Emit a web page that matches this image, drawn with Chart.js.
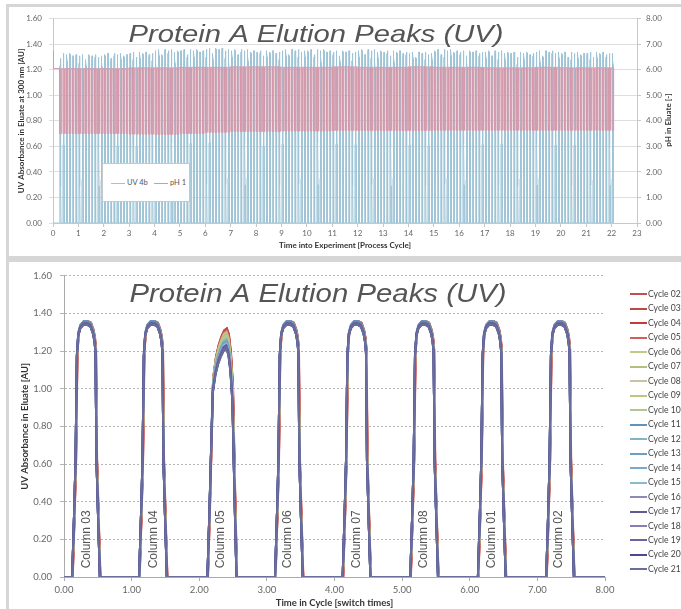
<!DOCTYPE html>
<html>
<head>
<meta charset="utf-8">
<script src="https://cdn.jsdelivr.net/npm/chart.js@4.4.1/dist/chart.umd.min.js"></script>
<style>
  html, body { margin: 0; padding: 0; background: #fff; }
  body { width: 681px; height: 609px; position: relative; overflow: hidden; font-family: Lato, "Open Sans", sans-serif; }
  #topPanel { position: absolute; left: 6px; top: 4px; width: 680px; height: 255px; border: 3px solid #d6d6d6; border-right: none; box-sizing: border-box; }
  #bottomPanel { position: absolute; left: 6px; top: 259px; width: 680px; height: 360px; border-top: 3px solid #d6d6d6; border-left: 3px solid #d6d6d6; box-sizing: border-box; }
  #topChart { position: absolute; left: 9px; top: 7px; }
  #bottomChart { position: absolute; left: 9px; top: 262px; }
  #topLegend { position: absolute; left: 102px; top: 163px; width: 88px; height: 39px; background: #fff; border: 1px solid #c8c8c8; box-sizing: border-box; font-size: 7.5px; color: #555; }
  #topLegend .item { position: absolute; top: 15px; white-space: nowrap; line-height: 8px; color: #555; }
  #topLegend .swatch { display: inline-block; width: 14px; height: 1px; vertical-align: middle; margin-right: 2px; }
  #bottomLegend { position: absolute; left: 630px; top: 286px; font-size: 10px; color: #444; }
  #bottomLegend .row { height: 14.47px; line-height: 14.47px; white-space: nowrap; }
  #bottomLegend .swatch { display: inline-block; width: 17px; height: 2px; vertical-align: middle; margin-right: 1px; }
  #bottomLegend .txt { display: inline-block; transform: scaleX(0.86); transform-origin: left center; }
</style>
</head>
<body>
<div id="topPanel"></div>
<div id="bottomPanel"></div>
<canvas id="topChart" width="672" height="249"></canvas>
<canvas id="bottomChart" width="672" height="347"></canvas>
<div id="topLegend"></div>
<div id="bottomLegend"></div>
<script>
// ---------- peak shapes (offset in switch times, AU) ----------
const peakShapeT  = [0, 0.03, 0.05, 0.07, 0.09, 0.12, 0.17, 0.22, 0.27, 0.31, 0.33, 0.345, 0.36, 0.385, 0.41];
const peakShapeAU = [0, 0.35, 0.62, 1.18, 1.29, 1.33, 1.35, 1.35, 1.34, 1.30, 1.26, 1.20, 0.62, 0.30, 0];
const col05ShapeT  = [0, 0.03, 0.06, 0.08, 0.12, 0.16, 0.20, 0.24, 0.28, 0.31, 0.34, 0.37, 0.40, 0.43];
const col05ShapeAU = [0, 0.35, 0.75, 1.00, 1.10, 1.16, 1.20, 1.23, 1.24, 1.21, 1.12, 0.95, 0.45, 0];

// ---------- top chart: whole experiment ----------
const topXTicks = [0, 1, 2, 3, 4, 5, 6, 7, 8, 9, 10, 11, 12, 13, 14, 15, 16, 17, 18, 19, 20, 21, 22, 23];
const topYTicks = [0, 0.2, 0.4, 0.6, 0.8, 1.0, 1.2, 1.4, 1.6];
const topY2Ticks = [0, 1, 2, 3, 4, 5, 6, 7, 8];
// peak top per process cycle (AU) and per column position in the cycle
const uvTopByCycle = [1.32, 1.31, 1.32, 1.33, 1.35, 1.35, 1.36, 1.35, 1.34, 1.35, 1.35, 1.34,
                      1.35, 1.34, 1.33, 1.35, 1.34, 1.34, 1.33, 1.34, 1.33, 1.33, 1.33];
const uvColumnDelta = [0.00, 0.01, -0.03, 0.01, 0.00, 0.01, -0.01, 0.00];
// pH plateau (load) and elution minimum per process cycle
const phHighByCycle = [6.05, 6.05, 6.05, 6.08, 6.08, 6.10, 6.10, 6.12, 6.12, 6.10, 6.10, 6.12,
                       6.10, 6.10, 6.12, 6.10, 6.10, 6.08, 6.08, 6.10, 6.08, 6.08, 6.08];
const phLowByCycle  = [3.50, 3.50, 3.50, 3.48, 3.47, 3.50, 3.55, 3.58, 3.58, 3.60, 3.60, 3.62,
                       3.62, 3.62, 3.62, 3.63, 3.63, 3.63, 3.63, 3.63, 3.63, 3.63, 3.63];
const phStart = 6.75;
const firstSwitch = 2, lastSwitch = 176;   // switches (1/8 cycle) with a peak
const uvColor = '#9fc4d6', phColor = '#d598aa';

// ---------- bottom chart: overlay of cycles ----------
const bottomXTicks = [0, 1, 2, 3, 4, 5, 6, 7, 8];
const bottomYTicks = [0, 0.2, 0.4, 0.6, 0.8, 1.0, 1.2, 1.4, 1.6];
const cycleNames = ['Cycle 02', 'Cycle 03', 'Cycle 04', 'Cycle 05', 'Cycle 06', 'Cycle 07', 'Cycle 08',
                    'Cycle 09', 'Cycle 10', 'Cycle 11', 'Cycle 12', 'Cycle 13', 'Cycle 14', 'Cycle 15',
                    'Cycle 16', 'Cycle 17', 'Cycle 18', 'Cycle 19', 'Cycle 20', 'Cycle 21'];
const cycleColors = ['#c0504d', '#b84a48', '#c43c3c', '#d0605c', '#c3c98c', '#b5be7c', '#c9c4a0',
                     '#bfc583', '#b0c495', '#5f93bb', '#82b3cb', '#6c9fc0', '#7aa9cb', '#8cb9d2',
                     '#9088b5', '#5f5c92', '#8a7fb2', '#6e63a0', '#4d478c', '#6a6e9c'];
const cyclePeakAU = [1.36, 1.35, 1.36, 1.35, 1.35, 1.36, 1.34, 1.35, 1.35, 1.36,
                     1.35, 1.34, 1.35, 1.35, 1.34, 1.35, 1.34, 1.35, 1.34, 1.34];
const col05PeakAU = [1.32, 1.32, 1.31, 1.31, 1.30, 1.29, 1.28, 1.28, 1.27, 1.26,
                     1.26, 1.25, 1.24, 1.24, 1.23, 1.23, 1.22, 1.22, 1.21, 1.21];
const cycleShift  = [0.010, 0.008, 0.008, 0.006, 0.004, 0.004, 0.003, 0.003, 0.002, 0.002,
                     0, 0, 0, 0, 0, 0, 0, 0, 0, 0];
const columnNames = ['Column 03', 'Column 04', 'Column 05', 'Column 06', 'Column 07', 'Column 08', 'Column 01', 'Column 02'];
const columnPeakStart = [0.12, 1.11, 2.12, 3.12, 4.12, 5.12, 6.12, 7.13];
const columnLabelX = [0.33, 1.32, 2.32, 3.31, 4.33, 5.32, 6.32, 7.32];
const columnLabelY = 0.20;

const tickFont = { family: 'Lato', size: 8 };
const fix2 = v => Number(v).toFixed(2);

// build the process traces for the top chart
function uvTrace() {
  const pts = [{ x: 0, y: 0 }];
  for (let k = firstSwitch; k <= lastSwitch; k++) {
    const c = Math.floor(k / 8), col = k % 8;
    const h = uvTopByCycle[c] + uvColumnDelta[col];
    peakShapeT.forEach((dt, j) => {
      pts.push({ x: (k + 0.12 + dt) / 8, y: peakShapeAU[j] * h / 1.35 });
    });
  }
  return pts;
}
function phTrace() {
  const pts = [{ x: 0, y: phStart }, { x: 0.015, y: phHighByCycle[0] }];
  for (let k = firstSwitch; k <= lastSwitch; k++) {
    const c = Math.floor(k / 8);
    pts.push({ x: (k + 0.10) / 8, y: phHighByCycle[c] });
    pts.push({ x: (k + 0.16) / 8, y: phLowByCycle[c] });
    pts.push({ x: (k + 0.56) / 8, y: phLowByCycle[c] });
    pts.push({ x: (k + 0.64) / 8, y: phHighByCycle[c] });
  }
  return pts;
}

// one trace per cycle for the bottom chart
function cycleTrace(i) {
  const pts = [{ x: 0, y: 0 }];
  columnPeakStart.forEach((start, c) => {
    const isCol05 = c === 2;
    const T = isCol05 ? col05ShapeT : peakShapeT;
    const Y = isCol05 ? col05ShapeAU : peakShapeAU;
    const k = isCol05 ? col05PeakAU[i] / 1.24 : cyclePeakAU[i] / 1.35;
    T.forEach((dt, j) => pts.push({ x: start + cycleShift[i] + dt, y: Y[j] * k }));
  });
  pts.push({ x: 8, y: 0 });
  return pts;
}

// big italic title drawn inside the plot, like the original
const overlayText = {
  id: 'overlayText',
  afterDatasetsDraw(chart, args, opts) {
    const ctx = chart.ctx;
    (opts.items || []).forEach(it => {
      ctx.save();
      ctx.font = it.font;
      ctx.fillStyle = it.color;
      ctx.textAlign = 'center';
      ctx.textBaseline = it.baseline || 'alphabetic';
      ctx.translate(it.x, it.y);
      if (it.rotate) ctx.rotate(it.rotate);
      if (it.width) ctx.scale(it.width / ctx.measureText(it.text).width, 1);
      ctx.fillText(it.text, 0, 0);
      ctx.restore();
    });
  }
};

const columnLabels = {
  id: 'columnLabels',
  afterDatasetsDraw(chart) {
    const { ctx, scales } = chart;
    ctx.save();
    ctx.font = '12px "Liberation Sans"';
    ctx.fillStyle = '#555';
    ctx.textAlign = 'center';
    ctx.textBaseline = 'middle';
    columnNames.forEach((name, i) => {
      ctx.save();
      ctx.translate(scales.x.getPixelForValue(columnLabelX[i]), scales.y.getPixelForValue(columnLabelY));
      ctx.rotate(-Math.PI / 2);
      ctx.fillText(name, 0, 0);
      ctx.restore();
    });
    ctx.restore();
  }
};

new Chart(document.getElementById('topChart'), {
  type: 'line',
  data: {
    datasets: [
      { label: 'UV 4b', data: uvTrace(), borderColor: uvColor, borderWidth: 1, yAxisID: 'y', order: 1 },
      { label: 'pH 1', data: phTrace(), borderColor: phColor, borderWidth: 1, yAxisID: 'y2', order: 0 }
    ]
  },
  options: {
    responsive: false,
    animation: false,
    events: [],
    elements: { point: { radius: 0 }, line: { tension: 0 } },
    layout: { padding: { top: 11, left: 0, right: 0, bottom: 0 } },
    plugins: {
      legend: { display: false },
      tooltip: { enabled: false },
      overlayText: {
        items: [
          { text: 'Protein A Elution Peaks (UV)', x: 307, y: 35, width: 375, font: 'italic 24px "Liberation Sans"', color: '#555' },
          { text: 'pH in Eluate [-]', x: 659, y: 113, rotate: -Math.PI / 2, baseline: 'middle', font: 'bold 8px Lato', color: '#333' }
        ]
      }
    },
    scales: {
      x: {
        type: 'linear', min: 0, max: 23,
        afterBuildTicks: s => { s.ticks = topXTicks.map(v => ({ value: v })); },
        afterFit: s => { s.height = 33; },
        ticks: { font: tickFont, color: '#666', padding: 2, maxRotation: 0, autoSkip: false },
        grid: { drawOnChartArea: false, tickLength: 4, color: '#c8c8c8' },
        border: { color: '#c8c8c8' },
        title: { display: true, text: 'Time into Experiment [Process Cycle]', color: '#333',
                 font: { family: 'Lato', size: 8, weight: 'bold' }, padding: { top: 0, bottom: 6 } }
      },
      y: {
        position: 'left', min: 0, max: 1.6,
        afterBuildTicks: s => { s.ticks = topYTicks.map(v => ({ value: v })); },
        afterFit: s => { s.width = 44; },
        ticks: { font: tickFont, color: '#666', padding: 7, callback: fix2 },
        grid: { color: '#dedede', tickLength: 4 },
        border: { color: '#c8c8c8' },
        title: { display: true, text: 'UV Absorbance in Eluate at 300 nm [AU]', color: '#333',
                 font: { family: 'Lato', size: 8, weight: 'bold' }, padding: { top: 8, bottom: 0 } }
      },
      y2: {
        position: 'right', min: 0, max: 8,
        afterBuildTicks: s => { s.ticks = topY2Ticks.map(v => ({ value: v })); },
        afterFit: s => { s.width = 44; },
        ticks: { font: tickFont, color: '#666', padding: 5, callback: fix2 },
        grid: { drawOnChartArea: false, tickLength: 4, color: '#c8c8c8' },
        border: { color: '#c8c8c8' }
      }
    }
  },
  plugins: [overlayText]
});

new Chart(document.getElementById('bottomChart'), {
  type: 'line',
  data: {
    datasets: cycleNames.map((name, i) => ({
      label: name,
      data: cycleTrace(i),
      borderColor: cycleColors[i],
      borderWidth: 2,
      order: cycleNames.length - i
    }))
  },
  options: {
    responsive: false,
    animation: false,
    events: [],
    elements: { point: { radius: 0 }, line: { tension: 0 } },
    layout: { padding: { top: 10, left: 0, right: 76, bottom: 0 } },
    plugins: {
      legend: { display: false },
      tooltip: { enabled: false },
      overlayText: {
        items: [
          { text: 'Protein A Elution Peaks (UV)', x: 309, y: 40, width: 377, font: 'italic 26px "Liberation Sans"', color: '#555' }
        ]
      }
    },
    scales: {
      x: {
        type: 'linear', min: 0, max: 8,
        afterBuildTicks: s => { s.ticks = bottomXTicks.map(v => ({ value: v })); },
        afterFit: s => { s.height = 32; },
        ticks: { font: { family: 'Lato', size: 9.5 }, color: '#666', padding: 3, maxRotation: 0, autoSkip: false, callback: fix2 },
        grid: { drawOnChartArea: false, tickLength: 4, color: '#aaa' },
        border: { color: '#aaa' },
        title: { display: true, text: 'Time in Cycle [switch times]', color: '#333',
                 font: { family: 'Lato', size: 9.5, weight: 'bold' }, padding: { top: 0, bottom: 0 } }
      },
      y: {
        min: 0, max: 1.6,
        afterBuildTicks: s => { s.ticks = bottomYTicks.map(v => ({ value: v })); },
        afterFit: s => { s.width = 55; },
        ticks: { font: { family: 'Lato', size: 9.5 }, color: '#666', padding: 8, callback: fix2 },
        grid: { color: '#b5b5b5', tickLength: 4, tickBorderDash: [] },
        border: { color: '#aaa', dash: [2, 2] },
        title: { display: true, text: 'UV Absorbance in Eluate [AU]', color: '#333',
                 font: { family: 'Lato', size: 9.5, weight: 'bold' }, padding: { top: 10, bottom: 0 } }
      }
    }
  },
  plugins: [overlayText, columnLabels]
});

// legends (HTML, positioned like the original)
const topLegend = document.getElementById('topLegend');
[['UV 4b', uvColor, 8], ['pH 1', phColor, 51]].forEach(([txt, col, left]) => {
  const d = document.createElement('div');
  d.className = 'item';
  d.style.left = left + 'px';
  d.innerHTML = '<span class="swatch" style="background:' + col + '"></span>' + txt;
  topLegend.appendChild(d);
});
const bottomLegend = document.getElementById('bottomLegend');
cycleNames.forEach((name, i) => {
  const d = document.createElement('div');
  d.className = 'row';
  d.innerHTML = '<span class="swatch" style="background:' + cycleColors[i] + '"></span><span class="txt">' + name + '</span>';
  bottomLegend.appendChild(d);
});
</script>
</body>
</html>
